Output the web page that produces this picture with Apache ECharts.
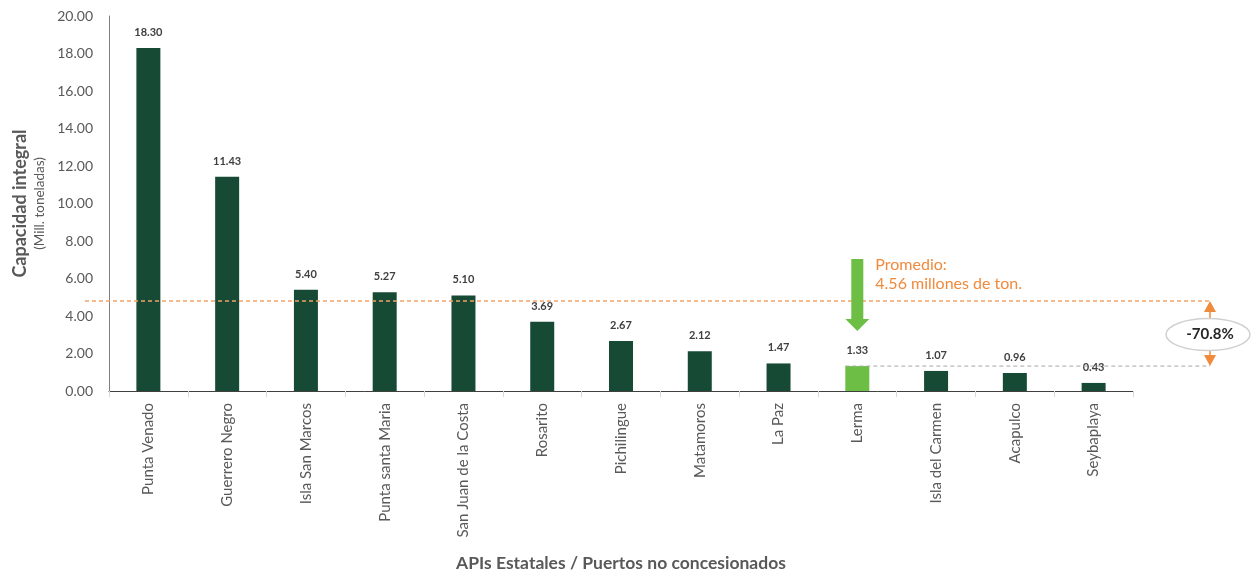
<!DOCTYPE html>
<html><head><meta charset="utf-8">
<script src="https://cdn.jsdelivr.net/npm/echarts@6/dist/echarts.min.js"></script>
<style>html,body{margin:0;padding:0;background:#fff}#c{width:1258px;height:575px}</style>
</head><body><div id="c"></div>
<script>
const categories = ["Punta Venado","Guerrero Negro","Isla San Marcos","Punta santa Maria","San Juan de la Costa","Rosarito","Pichilingue","Matamoros","La Paz","Lerma","Isla del Carmen","Acapulco","Seybaplaya"];
const values = [18.30,11.43,5.40,5.27,5.10,3.69,2.67,2.12,1.47,1.33,1.07,0.96,0.43];
const highlightIndex = 9;
const averageValue = 4.56;
const averageLineLevel = 4.8;
const diffLabel = "-70.8%";
const yTicks = {min:0, max:20, interval:2};

const FONT = "Lato, 'Open Sans', sans-serif";
const chart = echarts.init(document.getElementById('c'));
chart.setOption({
  animation:false,
  grid:{left:109, right:125, top:16, bottom:184, containLabel:false, outerBoundsMode:'none'},
  xAxis:{
    type:'category', data:categories,
    axisLine:{lineStyle:{color:'#404040', width:1}},
    axisTick:{show:true, length:6, lineStyle:{color:'#d9d9d9'}},
    axisLabel:{rotate:90, color:'#595959', fontSize:15, fontFamily:FONT, margin:12, interval:0},
    name:'APIs Estatales / Puertos no concesionados', nameLocation:'middle', nameGap:163,
    nameTextStyle:{color:'#595959', fontSize:17.5, fontWeight:'bold', fontFamily:FONT}
  },
  yAxis:{
    type:'value', min:yTicks.min, max:yTicks.max, interval:yTicks.interval,
    splitLine:{show:false},
    axisLine:{show:true, lineStyle:{color:'#7f7f7f'}},
    axisTick:{show:false},
    axisLabel:{color:'#595959', fontSize:14, fontFamily:FONT, margin:16, formatter:v=>v.toFixed(2)},
    name:'{a|Capacidad integral}\n{b|(Mill. toneladas)}', nameLocation:'middle', nameGap:60, nameRotate:90,
    nameTextStyle:{rich:{
      a:{color:'#595959', fontSize:18, fontWeight:'bold', fontFamily:FONT, lineHeight:20},
      b:{color:'#595959', fontSize:13.5, fontFamily:FONT, lineHeight:18}
    }}
  },
  series:[{
    type:'bar', barWidth:24,
    data:values.map((v,i)=>({value:v, itemStyle:{color: i===highlightIndex ? '#6cbf44' : '#174a35'}})),
    label:{show:true, position:'top', distance:10, color:'#404040', fontSize:11, fontWeight:'bold', fontFamily:FONT, formatter:p=>p.value.toFixed(2)}
  }]
});

function px(i,v){ return chart.convertToPixel({seriesIndex:0},[i,v]); }
const avgP = px(0, averageLineLevel);
const lerP = px(highlightIndex, values[highlightIndex]);
const xRight = 1210;
const orange = '#f08a3c';
const green = '#6cbf44';
chart.setOption({graphic:[
  {type:'line', shape:{x1:85, y1:avgP[1], x2:xRight, y2:avgP[1]}, style:{stroke:'#f4a467', lineWidth:1.5, lineDash:[4,3]}, z:10},
  {type:'line', shape:{x1:lerP[0]-12, y1:lerP[1], x2:xRight, y2:lerP[1]}, style:{stroke:'#a6a6a6', lineWidth:1, lineDash:[4,3]}, z:10},
  {type:'polygon', shape:{points:[[xRight,avgP[1]],[xRight-6,avgP[1]+11],[xRight+6,avgP[1]+11]]}, style:{fill:orange}, z:11},
  {type:'line', shape:{x1:xRight, y1:avgP[1]+11, x2:xRight, y2:avgP[1]+17}, style:{stroke:orange, lineWidth:1.5}, z:11},
  {type:'polygon', shape:{points:[[xRight,lerP[1]],[xRight-6,lerP[1]-11],[xRight+6,lerP[1]-11]]}, style:{fill:orange}, z:11},
  {type:'line', shape:{x1:xRight, y1:lerP[1]-11, x2:xRight, y2:lerP[1]-16}, style:{stroke:orange, lineWidth:1.5}, z:11},
  {type:'ellipse', shape:{cx:xRight-2, cy:(avgP[1]+lerP[1])/2+1, rx:42, ry:16}, style:{fill:'#fff', stroke:'#d0d0d0', lineWidth:1.5}, z:12},
  {type:'text', x:xRight, y:(avgP[1]+lerP[1])/2+1, style:{text:diffLabel, fill:'#262626', font:'bold 15px '+FONT, textAlign:'center', textVerticalAlign:'middle'}, z:13},
  {type:'polygon', shape:{points:[
    [lerP[0]-6,259],[lerP[0]+6,259],[lerP[0]+6,319],[lerP[0]+12,319],[lerP[0],331],[lerP[0]-12,319],[lerP[0]-6,319]
  ]}, style:{fill:green}, z:11},
  {type:'text', x:lerP[0]+18, y:255, style:{text:'Promedio:\n'+averageValue.toFixed(2)+' millones de ton.', fill:orange, font:'16px '+FONT, lineHeight:19, textAlign:'left', textVerticalAlign:'top'}, z:11}
]});
</script></body></html>
